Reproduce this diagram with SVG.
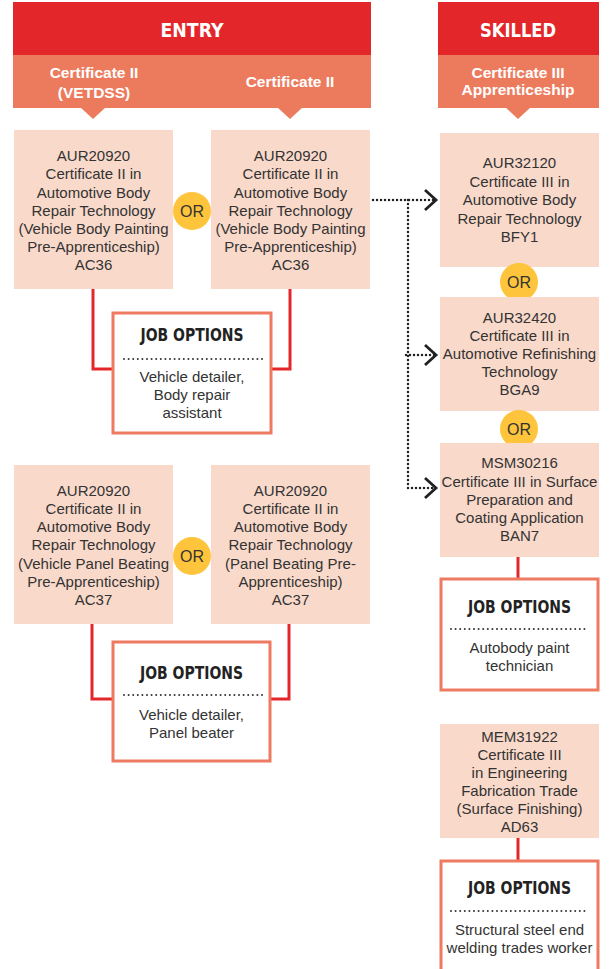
<svg xmlns="http://www.w3.org/2000/svg" width="615" height="969" viewBox="0 0 615 969">
<defs>
<style>
.hdr{fill:#E3262A}
.sub{fill:#EC7B5E}
.box{fill:#F9D9CA}
.or{fill:#FDC43C}
.job{fill:#fff;stroke:#EE7B61;stroke-width:3}
.t{font-family:"Liberation Sans",Arial,sans-serif;font-size:15px;fill:#333;text-anchor:middle}
.ot{font-family:"Liberation Sans",Arial,sans-serif;font-size:16px;fill:#333;text-anchor:middle}
.st{font-family:"Liberation Sans",Arial,sans-serif;font-size:15.5px;font-weight:bold;fill:#fff;text-anchor:middle}
.ht{font-family:"DejaVu Sans Condensed","DejaVu Sans",sans-serif;font-size:20px;font-weight:bold;fill:#fff;text-anchor:middle}
.jt{font-family:"DejaVu Sans Condensed","DejaVu Sans",sans-serif;font-size:17px;font-weight:bold;fill:#222;text-anchor:middle}
.dl{stroke:#333;stroke-width:2;stroke-dasharray:0 4.6;stroke-linecap:round;fill:none}
.red{stroke:#E3262A;stroke-width:3;fill:none}
.dot{stroke:#222;stroke-width:2.5;stroke-dasharray:0 4;stroke-linecap:round;fill:none}
</style>
<marker id="chev" markerUnits="userSpaceOnUse" markerWidth="16" markerHeight="24" refX="13" refY="12" orient="auto" overflow="visible">
<path d="M2,2 L13,12 L2,22" fill="none" stroke="#222" stroke-width="2.8" stroke-dasharray="none"/>
</marker>
</defs>

<g id="header-entry">
<rect class="hdr" x="13" y="2" width="358" height="53"/>
<text class="ht" x="192" y="37" textLength="63" lengthAdjust="spacingAndGlyphs">ENTRY</text>
<rect class="sub" x="13" y="55" width="358" height="53"/>
<polygon class="sub" points="80,107 106,107 93,119"/>
<polygon class="sub" points="277,107 303,107 290,119"/>
<text class="st" x="94" y="78">Certificate II</text>
<text class="st" x="94" y="98">(VETDSS)</text>
<text class="st" x="290" y="87">Certificate II</text>
</g>

<g id="header-skilled">
<rect class="hdr" x="438" y="2" width="161" height="53"/>
<text class="ht" x="518" y="37" textLength="76" lengthAdjust="spacingAndGlyphs">SKILLED</text>
<rect class="sub" x="438" y="55" width="161" height="53"/>
<polygon class="sub" points="505,107 531,107 518,119"/>
<text class="st" x="518" y="78">Certificate III</text>
<text class="st" x="518" y="95">Apprenticeship</text>
</g>

<g id="connectors">
<path class="red" d="M93,289 V369 H113"/>
<path class="red" d="M290,289 V369 H271"/>
<path class="red" d="M92,624 V699 H113"/>
<path class="red" d="M289,624 V699 H270"/>
<path class="red" d="M518,557 V579"/>
<path class="red" d="M518,838 V861"/>
<path class="dot" d="M373,200 H436" marker-end="url(#chev)"/>
<path class="dot" d="M408,200 V488"/>
<path class="dot" d="M406,355 H436" marker-end="url(#chev)"/>
<path class="dot" d="M408,488 H436" marker-end="url(#chev)"/>
</g>

<g id="n-ac36-vetdss">
<rect class="box" x="14" y="130" width="159" height="159"/>
<text class="t" x="93.5" y="161">AUR20920</text>
<text class="t" x="93.5" y="179">Certificate II in</text>
<text class="t" x="93.5" y="197.5">Automotive Body</text>
<text class="t" x="93.5" y="216">Repair Technology</text>
<text class="t" x="93.5" y="234">(Vehicle Body Painting</text>
<text class="t" x="93.5" y="252">Pre-Apprenticeship)</text>
<text class="t" x="93.5" y="270">AC36</text>
</g>

<g id="n-ac36-cert2">
<rect class="box" x="211" y="130" width="159" height="159"/>
<text class="t" x="290.5" y="161">AUR20920</text>
<text class="t" x="290.5" y="179">Certificate II in</text>
<text class="t" x="290.5" y="197.5">Automotive Body</text>
<text class="t" x="290.5" y="216">Repair Technology</text>
<text class="t" x="290.5" y="234">(Vehicle Body Painting</text>
<text class="t" x="290.5" y="252">Pre-Apprenticeship)</text>
<text class="t" x="290.5" y="270">AC36</text>
</g>

<g id="or-1">
<circle class="or" cx="192" cy="211" r="19"/>
<text class="ot" x="192" y="217">OR</text>
</g>

<g id="job-1">
<rect class="job" x="113" y="313" width="158" height="120"/>
<text class="jt" x="192" y="341" textLength="103" lengthAdjust="spacingAndGlyphs">JOB OPTIONS</text>
<line class="dl" x1="124" y1="359" x2="262" y2="359"/>
<text class="t" x="192" y="382">Vehicle detailer,</text>
<text class="t" x="192" y="400">Body repair</text>
<text class="t" x="192" y="418">assistant</text>
</g>

<g id="n-ac37-vetdss">
<rect class="box" x="14" y="465" width="159" height="159"/>
<text class="t" x="93.5" y="496">AUR20920</text>
<text class="t" x="93.5" y="514">Certificate II in</text>
<text class="t" x="93.5" y="532">Automotive Body</text>
<text class="t" x="93.5" y="550">Repair Technology</text>
<text class="t" x="93.5" y="569">(Vehicle Panel Beating</text>
<text class="t" x="93.5" y="587">Pre-Apprenticeship)</text>
<text class="t" x="93.5" y="604.5">AC37</text>
</g>

<g id="n-ac37-cert2">
<rect class="box" x="211" y="465" width="159" height="159"/>
<text class="t" x="290.5" y="496">AUR20920</text>
<text class="t" x="290.5" y="514">Certificate II in</text>
<text class="t" x="290.5" y="532">Automotive Body</text>
<text class="t" x="290.5" y="550">Repair Technology</text>
<text class="t" x="290.5" y="569">(Panel Beating Pre-</text>
<text class="t" x="290.5" y="587">Apprenticeship)</text>
<text class="t" x="290.5" y="604.5">AC37</text>
</g>

<g id="or-2">
<circle class="or" cx="192" cy="556" r="19"/>
<text class="ot" x="192" y="562">OR</text>
</g>

<g id="job-2">
<rect class="job" x="113" y="642" width="157" height="119"/>
<text class="jt" x="191.5" y="679" textLength="103" lengthAdjust="spacingAndGlyphs">JOB OPTIONS</text>
<line class="dl" x1="124" y1="695" x2="262" y2="695"/>
<text class="t" x="191.5" y="720">Vehicle detailer,</text>
<text class="t" x="191.5" y="738">Panel beater</text>
</g>

<g id="n-bfy1">
<rect class="box" x="440" y="133" width="159" height="134"/>
<text class="t" x="519.5" y="168">AUR32120</text>
<text class="t" x="519.5" y="186.5">Certificate III in</text>
<text class="t" x="519.5" y="205">Automotive Body</text>
<text class="t" x="519.5" y="223.5">Repair Technology</text>
<text class="t" x="519.5" y="242">BFY1</text>
</g>

<g id="or-3">
<circle class="or" cx="519" cy="282" r="19"/>
<text class="ot" x="519" y="288">OR</text>
</g>

<g id="n-bga9">
<rect class="box" x="440" y="297" width="159" height="114"/>
<text class="t" x="519.5" y="323">AUR32420</text>
<text class="t" x="519.5" y="341">Certificate III in</text>
<text class="t" x="519.5" y="359">Automotive Refinishing</text>
<text class="t" x="519.5" y="377">Technology</text>
<text class="t" x="519.5" y="395">BGA9</text>
</g>

<g id="or-4">
<circle class="or" cx="519" cy="429" r="19"/>
<text class="ot" x="519" y="435">OR</text>
</g>

<g id="n-ban7">
<rect class="box" x="440" y="443" width="159" height="114"/>
<text class="t" x="519.5" y="468">MSM30216</text>
<text class="t" x="519.5" y="486.5">Certificate III in Surface</text>
<text class="t" x="519.5" y="505">Preparation and</text>
<text class="t" x="519.5" y="523">Coating Application</text>
<text class="t" x="519.5" y="541">BAN7</text>
</g>

<g id="job-3">
<rect class="job" x="441" y="579" width="157" height="111"/>
<text class="jt" x="519.5" y="613" textLength="103" lengthAdjust="spacingAndGlyphs">JOB OPTIONS</text>
<line class="dl" x1="451" y1="629" x2="589" y2="629"/>
<text class="t" x="519.5" y="653">Autobody paint</text>
<text class="t" x="519.5" y="671">technician</text>
</g>

<g id="n-ad63">
<rect class="box" x="440" y="724" width="159" height="114"/>
<text class="t" x="519.5" y="742">MEM31922</text>
<text class="t" x="519.5" y="760">Certificate III</text>
<text class="t" x="519.5" y="778">in Engineering</text>
<text class="t" x="519.5" y="796">Fabrication Trade</text>
<text class="t" x="519.5" y="814">(Surface Finishing)</text>
<text class="t" x="519.5" y="832">AD63</text>
</g>

<g id="job-4">
<rect class="job" x="441" y="861" width="157" height="130"/>
<text class="jt" x="519.5" y="894" textLength="103" lengthAdjust="spacingAndGlyphs">JOB OPTIONS</text>
<line class="dl" x1="451" y1="911" x2="589" y2="911"/>
<text class="t" x="519.5" y="935">Structural steel end</text>
<text class="t" x="519.5" y="953">welding trades worker</text>
</g>
</svg>
